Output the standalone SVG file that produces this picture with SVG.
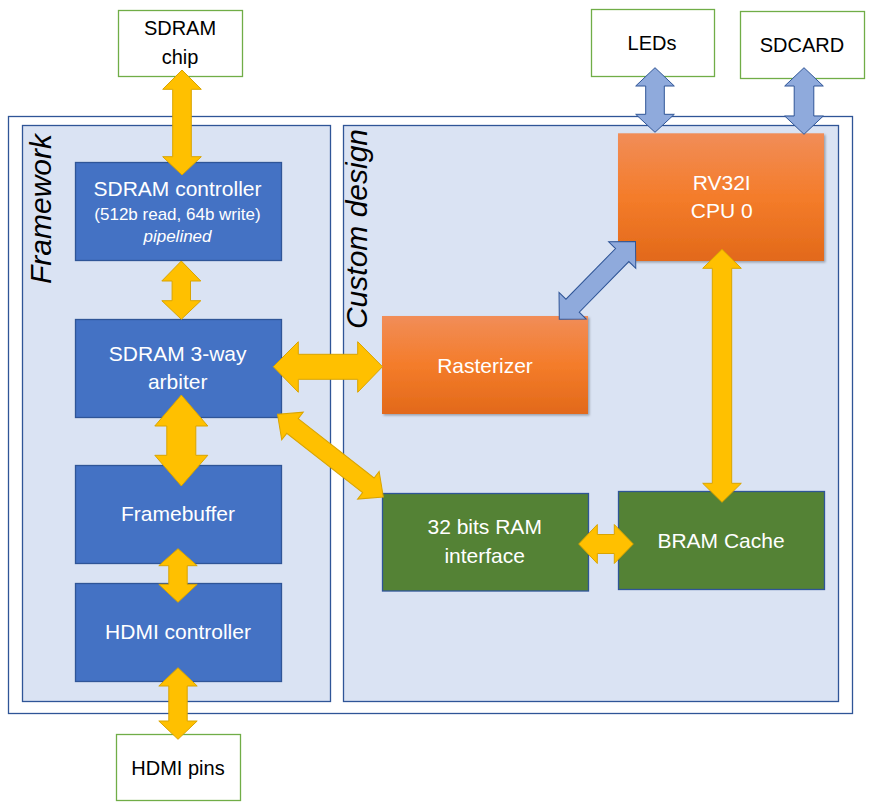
<svg xmlns="http://www.w3.org/2000/svg" width="875" height="809" viewBox="0 0 875 809">
<defs>
<linearGradient id="orange" x1="0" y1="0" x2="0" y2="1">
<stop offset="0" stop-color="#F18D58"/>
<stop offset="0.5" stop-color="#F47C2A"/>
<stop offset="1" stop-color="#E2691A"/>
</linearGradient>
<filter id="shadow" x="-5%" y="-5%" width="115%" height="115%">
<feDropShadow dx="1.5" dy="1.5" stdDeviation="1" flood-color="#000" flood-opacity="0.3"/>
</filter>
<style>
.ext{fill:#FFFFFF;stroke:#70AD47;stroke-width:1.3}
.frame{fill:#FFFFFF;stroke:#2F5597;stroke-width:1.3}
.panel{fill:#DAE3F3;stroke:#2F5597;stroke-width:1.3}
.blue{fill:#4472C4;stroke:#2F5597;stroke-width:1.3}
.green{fill:#548235;stroke:#2F5597;stroke-width:1.3}
.orange{fill:url(#orange);filter:url(#shadow)}
.yarrow{fill:#FFC000;stroke:#D9A400;stroke-width:1}
.barrow{fill:#8FAADC;stroke:#2F5597;stroke-width:1}
text{font-family:"Liberation Sans",Arial,sans-serif;text-anchor:middle}
.w{fill:#FFFFFF;font-size:21px}
.ws{fill:#FFFFFF;font-size:17px}
.k{fill:#000000;font-size:20px}
.title{fill:#000000;font-size:30px;font-style:italic}
</style>
</defs>

<g id="outer-frame">
<rect class="frame" x="8.5" y="116.5" width="844" height="597"/>
</g>
<g id="framework-panel">
<rect class="panel" x="22.5" y="125.5" width="308" height="576"/>
<text class="title" transform="translate(51,209) rotate(-90)">Framework</text>
</g>
<g id="custom-panel">
<rect class="panel" x="343.5" y="125.5" width="495" height="576"/>
<text class="title" transform="translate(367,229) rotate(-90)">Custom design</text>
</g>

<g id="sdram-chip">
<rect class="ext" x="118.5" y="10.5" width="124" height="66"/>
<text class="k" x="180" y="35">SDRAM</text>
<text class="k" x="180" y="64">chip</text>
</g>
<g id="leds">
<rect class="ext" x="591.5" y="9.5" width="123" height="67"/>
<text class="k" x="652" y="50">LEDs</text>
</g>
<g id="sdcard">
<rect class="ext" x="740.5" y="11.5" width="124" height="67"/>
<text class="k" x="802" y="52">SDCARD</text>
</g>
<g id="hdmi-pins">
<rect class="ext" x="116.5" y="734.5" width="124" height="66"/>
<text class="k" x="178" y="775">HDMI pins</text>
</g>

<g id="sdram-controller">
<rect class="blue" x="75.5" y="162.5" width="206" height="98"/>
<text class="w" x="177.5" y="195.5">SDRAM controller</text>
<text class="ws" x="177.5" y="220">(512b read, 64b write)</text>
<text class="ws" x="177.5" y="241.5" font-style="italic">pipelined</text>
</g>
<g id="sdram-arbiter">
<rect class="blue" x="75.5" y="319.5" width="206" height="98"/>
<text class="w" x="177.7" y="361">SDRAM 3-way</text>
<text class="w" x="177.7" y="389.3">arbiter</text>
</g>
<g id="framebuffer">
<rect class="blue" x="75.5" y="465.5" width="206" height="98"/>
<text class="w" x="178" y="520.7">Framebuffer</text>
</g>
<g id="hdmi-controller">
<rect class="blue" x="75.5" y="583.5" width="206" height="98"/>
<text class="w" x="178" y="638.7">HDMI controller</text>
</g>

<g id="rasterizer">
<rect class="orange" x="382" y="316" width="206" height="98"/>
<text class="w" x="485" y="372.7">Rasterizer</text>
</g>
<g id="cpu">
<rect class="orange" x="618" y="133.3" width="206" height="127.7"/>
<text class="w" x="721.7" y="190">RV32I</text>
<text class="w" x="721.7" y="218.3">CPU 0</text>
</g>
<g id="ram-interface">
<rect class="green" x="382.5" y="493.5" width="206" height="97.5"/>
<text class="w" x="484.7" y="534.3">32 bits RAM</text>
<text class="w" x="484.7" y="563.3">interface</text>
</g>
<g id="bram-cache">
<rect class="green" x="618.5" y="491.5" width="206" height="98"/>
<text class="w" x="721" y="547.7">BRAM Cache</text>
</g>

<g id="connectors">
<polygon class="yarrow" points="182,70 201.3,89.3 191.3,89.3 191.3,156.7 201.3,156.7 182,175 162.7,156.7 172.7,156.7 172.7,89.3 162.7,89.3"/>
<polygon class="yarrow" points="181.3,261 200.8,281 190.5,281 190.5,300.7 200.8,300.7 181.3,319.3 161.8,300.7 172.1,300.7 172.1,281 161.8,281"/>
<polygon class="yarrow" points="181.3,395 207.8,426 195.8,426 195.8,455.3 207.8,455.3 181.3,486 154.8,455.3 166.8,455.3 166.8,426 154.8,426"/>
<polygon class="yarrow" points="178,548.7 197.2,565.7 187.2,565.7 187.2,584.3 197.2,584.3 178,602.3 158.8,584.3 168.8,584.3 168.8,565.7 158.8,565.7"/>
<polygon class="yarrow" points="178,667.7 197.2,686 187.2,686 187.2,721 197.2,721 178,739.3 158.8,721 168.8,721 168.8,686 158.8,686"/>
<polygon class="yarrow" points="722,249.3 741.3,268.3 731.7,268.3 731.7,483.3 741.3,483.3 722,502.3 702.7,483.3 712.3,483.3 712.3,268.3 702.7,268.3"/>
<polygon class="yarrow" points="273.3,366.7 298.3,341.7 298.3,354.3 357.7,354.3 357.7,341.7 382.5,366.7 357.7,392.3 357.7,379.3 298.3,379.3 298.3,392.3"/>
<polygon class="yarrow" points="578.7,544 597.3,524.5 597.3,534.5 614.3,534.5 614.3,524.5 633.3,544 614.3,563.5 614.3,553.5 597.3,553.5 597.3,563.5"/>
<polygon class="yarrow" transform="translate(277.5,414.3) rotate(38)" points="0,0 19,-17.5 19,-9.3 115.3,-9.3 115.3,-17.5 134.3,0 115.3,17.5 115.3,9.3 19,9.3 19,17.5"/>
<polygon class="barrow" points="655,67.7 674.3,86 664.3,86 664.3,114.3 674.3,114.3 655,132.3 635.7,114.3 645.7,114.3 645.7,86 635.7,86"/>
<polygon class="barrow" points="804,67.7 823.3,86 813.8,86 813.8,116 823.3,116 804,134.3 784.7,116 794.2,116 794.2,86 784.7,86"/>
<polygon class="barrow" transform="translate(559.3,319.3) rotate(-45.6)" points="0,0 19,-19 19,-9.3 89.9,-9.3 89.9,-19 108.9,0 89.9,19 89.9,9.3 19,9.3 19,19"/>
</g>
</svg>
